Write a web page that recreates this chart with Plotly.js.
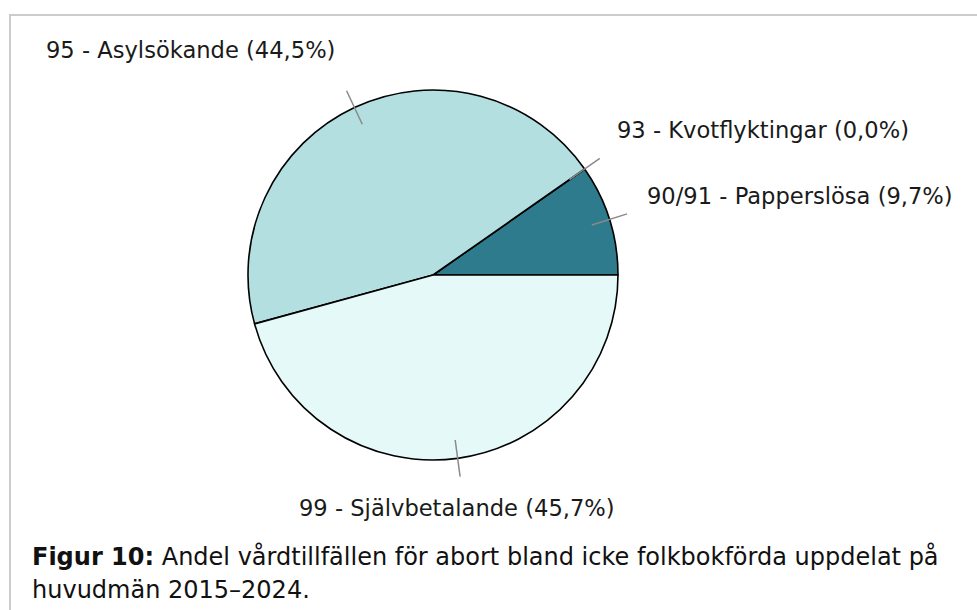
<!DOCTYPE html>
<html>
<head>
<meta charset="utf-8">
<script src="https://cdn.plot.ly/plotly-3.0.1.min.js"></script>
<style>
  html, body { margin: 0; padding: 0; background: #ffffff; }
  #chart { width: 977px; height: 610px; }
</style>
</head>
<body>
<div id="chart"></div>
<script>
// ---- data ----
var categories = ['90/91 - Papperslösa', '93 - Kvotflyktingar', '95 - Asylsökande', '99 - Självbetalande'];
var shares = [9.7, 0.0, 44.5, 45.7];
var sliceColors = ['#2e7b8e', '#b4dfe0', '#b4dfe0', '#e6f9f9'];
var captionBold = 'Figur 10:';
var captionLine1 = 'Andel vårdtillfällen för abort bland icke folkbokförda uppdelat på';
var captionLine2 = 'huvudmän 2015–2024.';

// ---- layout constants (pixels) ----
var W = 977, H = 610;
var CX = 433, CY = 275, R = 185;
// label anchor positions in px (matching reference placement)
var labelPlace = [
  {x: 645, y: 196, anchor: 'left'},
  {x: 615, y: 130, anchor: 'left'},
  {x: 337, y: 50,  anchor: 'right'},
  {x: 457, y: 508, anchor: 'center'}
];

function px2x(x) { return x / W; }
function px2y(y) { return 1 - y / H; }
function fmt(v) { return v.toFixed(1).replace('.', ',') + '%'; }

var total = shares.reduce(function (a, b) { return a + b; }, 0);
// Plotly's counterclockwise mode places the first slice clockwise of 'rotation';
// compensate so the first slice starts at 3 o'clock and runs counterclockwise.
var firstAngle = shares[0] / total * 360;

var trace = {
  type: 'pie',
  labels: categories,
  values: shares,
  sort: false,
  direction: 'counterclockwise',
  rotation: 90 - firstAngle,
  textinfo: 'none',
  hoverinfo: 'label+percent',
  marker: { colors: sliceColors, line: { color: '#000000', width: 1.6 } },
  domain: { x: [px2x(CX - R), px2x(CX + R)], y: [px2y(CY + R), px2y(CY - R)] },
  showlegend: false
};

var shapes = [];
var annotations = [];
var cum = 0;
for (var i = 0; i < shares.length; i++) {
  var mid = (cum + shares[i] / 2) / total * 2 * Math.PI;
  cum += shares[i];
  var c = Math.cos(mid), s = Math.sin(mid);
  shapes.push({
    type: 'line', xref: 'paper', yref: 'paper',
    x0: px2x(CX + 0.9 * R * c), y0: px2y(CY - 0.9 * R * s),
    x1: px2x(CX + 1.1 * R * c), y1: px2y(CY - 1.1 * R * s),
    line: { color: '#8a8a8a', width: 1.5 }
  });
  annotations.push({
    xref: 'paper', yref: 'paper',
    x: px2x(labelPlace[i].x), y: px2y(labelPlace[i].y),
    xanchor: labelPlace[i].anchor, yanchor: 'middle',
    text: categories[i] + ' (' + fmt(shares[i]) + ')',
    showarrow: false,
    font: { family: 'DejaVu Sans', size: 22.6, color: '#1a1a1a' }
  });
}

// page frame lines
shapes.push({ type: 'line', xref: 'paper', yref: 'paper',
  x0: px2x(9), y0: px2y(15), x1: 1, y1: px2y(15),
  line: { color: '#cccccc', width: 2 } });
shapes.push({ type: 'line', xref: 'paper', yref: 'paper',
  x0: px2x(10), y0: px2y(14), x1: px2x(10), y1: 0,
  line: { color: '#cccccc', width: 2 } });

// caption
annotations.push({
  xref: 'paper', yref: 'paper', x: px2x(30), y: px2y(556),
  xanchor: 'left', yanchor: 'middle', showarrow: false,
  text: '<b>' + captionBold + '</b> ' + captionLine1,
  font: { family: 'DejaVu Sans', size: 24, color: '#111111' }
});
annotations.push({
  xref: 'paper', yref: 'paper', x: px2x(30), y: px2y(590),
  xanchor: 'left', yanchor: 'middle', showarrow: false,
  text: captionLine2,
  font: { family: 'DejaVu Sans', size: 24, color: '#111111' }
});

var layout = {
  width: W, height: H,
  margin: { l: 0, r: 0, t: 0, b: 0 },
  paper_bgcolor: '#ffffff',
  shapes: shapes,
  annotations: annotations
};

Plotly.newPlot('chart', [trace], layout, { staticPlot: true, displayModeBar: false });
</script>
</body>
</html>
